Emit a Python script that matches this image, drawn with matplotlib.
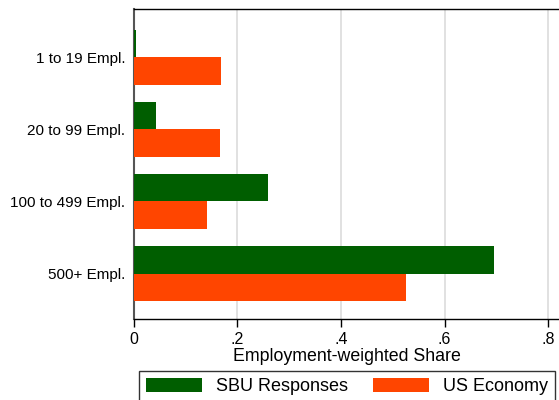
import matplotlib.pyplot as plt
import numpy as np
from matplotlib.patches import Patch

plt.rcParams['font.family'] = ['Liberation Sans', 'DejaVu Sans']

# Data
categories = ['1 to 19 Empl.', '20 to 99 Empl.', '100 to 499 Empl.', '500+ Empl.']
sbu = [0.004, 0.043, 0.260, 0.696]
us_economy = [0.168, 0.166, 0.141, 0.526]
xticks = [0, 0.2, 0.4, 0.6, 0.8]
xticklabels = ['0', '.2', '.4', '.6', '.8']

green = '#005e00'
orange = '#ff4500'

W, H = 559, 400
fig = plt.figure(figsize=(W / 100, H / 100), dpi=100)
# plot area runs a little past the right edge of the picture
ax = fig.add_axes([133.5 / W, 1 - 319 / H, 427 / W, (319 - 9) / H])

y = np.arange(len(categories))
h = 0.38
ax.barh(y - h / 2, sbu, height=h, color=green, zorder=3)
ax.barh(y + h / 2, us_economy, height=h, color=orange, zorder=3)

ax.set_ylim(3.63, -0.67)
ax.set_xlim(0, 0.8236)
ax.set_yticks(y)
ax.set_yticklabels(categories, fontsize=11)
ax.tick_params(axis='y', length=0, pad=6)
ax.set_xticks(xticks)
ax.set_xticklabels(xticklabels, fontsize=11.5)
ax.tick_params(axis='x', length=6, width=1, pad=3, color='black')
ax.set_xlabel('Employment-weighted Share', fontsize=12.8, labelpad=1)

ax.grid(axis='x', color='#dcdcdc', linewidth=1.2, zorder=0)
ax.spines['left'].set_color('#555555')
ax.spines['left'].set_linewidth(1.5)
ax.spines['left'].set_zorder(2)
for s in ['top', 'bottom']:
    ax.spines[s].set_color('black')
    ax.spines[s].set_linewidth(1.0)
ax.spines['right'].set_visible(False)

# Legend
handles = [Patch(facecolor=green), Patch(facecolor=orange)]
leg = fig.legend(handles, ['SBU Responses', 'US Economy'], ncol=2,
                 loc='upper left', bbox_to_anchor=(139 / W, 1 - 371 / H),
                 fontsize=13, frameon=True, fancybox=False,
                 edgecolor='black', handlelength=3.1, handleheight=0.8,
                 handletextpad=0.75, columnspacing=1.4, borderpad=0.4,
                 borderaxespad=0)
leg.get_frame().set_linewidth(1.0)

fig.savefig('out.png', dpi=100)
